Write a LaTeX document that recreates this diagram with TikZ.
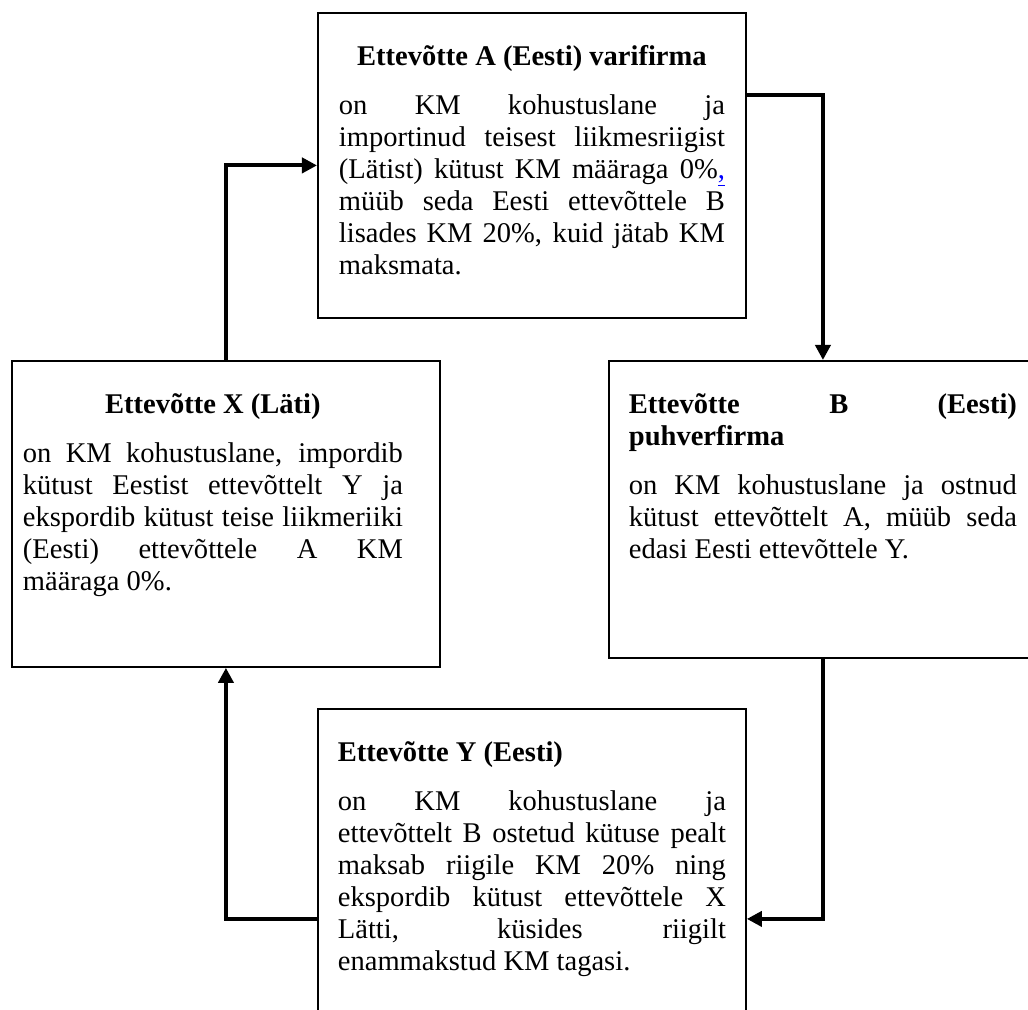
\documentclass[tikz,border=0pt]{standalone}
\usepackage{fontspec}
\setmainfont{Liberation Serif}
\usepackage{xcolor}
\usetikzlibrary{arrows.meta,calc}

\newdimen\pxu \pxu=0.431pt
\tolerance=10000 \hbadness=10000
% box body: left gap, text width, right gap, height, text
\newcommand{\boxtext}[5]{\hspace*{#1\pxu}\parbox[c][#4\pxu][t]{#2\pxu}{#5}\hspace*{#3\pxu}}
\newcommand{\firmc}[1]{{\centering\rule{0pt}{53\pxu}\textbf{#1}\par}\vspace{7pt}}
\newcommand{\firml}[1]{\rule{0pt}{53\pxu}\textbf{#1}\par\vspace{7pt}}

\begin{document}
\begin{tikzpicture}[x=0.431pt,y=0.431pt,
  firmbox/.style={draw,line width=0.8pt,inner sep=0pt,anchor=north west,
    font=\fontsize{12.3pt}{13.8pt}\selectfont},
  flow/.style={line width=1.7pt,-{Triangle[length=6.5pt,width=6.5pt]}}]
  \useasboundingbox (0,0) rectangle (1028,1010);
  \clip (0,0) rectangle (1028,1010);
  % --- firms ---
  \node[firmbox] (A) at (317,998) {\boxtext{21}{386}{21}{305}{%
    \firmc{Ettevõtte A (Eesti) varifirma}%
    on KM kohustuslane ja\linebreak
    importinud teisest liikmesriigist\linebreak
    (Lätist) kütust KM määraga 0\%\textcolor{blue}{\underline{,}}\linebreak
    müüb seda Eesti ettevõttele B\linebreak
    lisades KM 20\%, kuid jätab KM\linebreak
    maksmata.}};
  \node[firmbox] (X) at (11,650) {\boxtext{11}{380}{37}{306}{%
    \firmc{Ettevõtte X (Läti)}%
    on KM kohustuslane, impordib\linebreak
    kütust Eestist ettevõttelt Y ja\linebreak
    ekspordib kütust teise liikmeriiki\linebreak
    (Eesti) ettevõttele A KM\linebreak
    määraga 0\%.}};
  \node[firmbox] (B) at (608,650) {\boxtext{20}{388}{20}{297}{%
    \firml{Ettevõtte B (Eesti)\linebreak puhverfirma}%
    on KM kohustuslane ja ostnud\linebreak
    kütust ettevõttelt A, müüb seda\linebreak
    edasi Eesti ettevõttele Y.}};
  \node[firmbox] (Y) at (317,302) {\boxtext{20}{388}{20}{420}{%
    \firml{Ettevõtte Y (Eesti)}%
    on KM kohustuslane ja\linebreak
    ettevõttelt B ostetud kütuse pealt\linebreak
    maksab riigile KM 20\% ning\linebreak
    ekspordib kütust ettevõttele X\linebreak
    Lätti, küsides riigilt\linebreak
    enammakstud KM tagasi.}};
  % --- flow of the fuel, clockwise ---
  \coordinate (Aout) at ($(A.north east)+(0,-83)$);
  \draw[flow] (Aout) -| (B.north);
  \draw[flow] (B.south) |- (Y.east);
  \draw[flow] (Y.west) -| (X.south);
  \draw[flow] (X.north) |- (A.west);
\end{tikzpicture}
\end{document}
